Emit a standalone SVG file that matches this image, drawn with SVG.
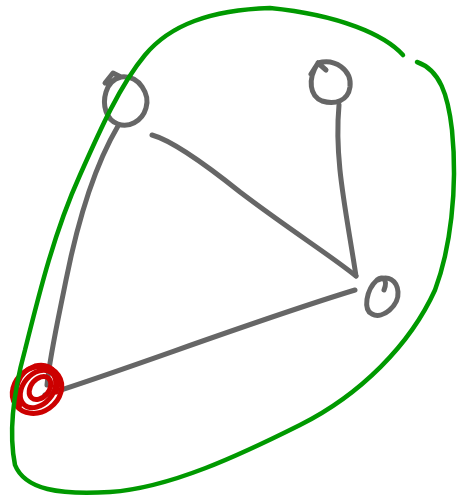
<svg xmlns="http://www.w3.org/2000/svg" width="464" height="502" viewBox="0 0 464 502">
<style>
.g{fill:none;stroke:#666;stroke-width:5;stroke-linecap:round;stroke-linejoin:round}
.r{fill:none;stroke:#c00;stroke-width:5;stroke-linecap:round}
.o{fill:none;stroke:#090;stroke-width:4.5;stroke-linecap:round;stroke-linejoin:round}
</style>
<rect width="464" height="502" fill="#fff"/>
<g id="connectors">
<path class="g" d="M118,126 C95,165 78,220 66,280 C58,320 50,355 47,385"/>
<path class="g" d="M152,135 C170,140 200,160 240,192 C290,230 330,255 356,276"/>
<path class="g" d="M339,105 C334,160 346,210 356,276"/>
<path class="g" d="M45,395 C120,372 250,322 355,290"/>
</g>
<g id="node-a">
<path class="g" d="M105,83 L113,73 L121,77 C140,75 150,95 146,108 C142,122 128,128 118,124 C106,120 102,105 106,92 C108,85 113,79 121,77"/>
</g>
<g id="node-b">
<path class="g" d="M311,74 L318,63 L326,70 M318,63 C335,58 352,70 350,87 C348,101 335,105 322,101 C310,96 307,80 318,63"/>
</g>
<g id="node-c">
<path class="g" d="M384,290 C388,280 383,275 377,280 C366,290 363,310 372,314 C383,320 399,305 398,292 C397,280 388,275 378,280"/>
</g>
<g id="node-red">
<ellipse class="r" cx="37" cy="390" rx="26" ry="22" transform="rotate(-35 37 390)"/>
<ellipse class="r" cx="38" cy="389" rx="21" ry="15" transform="rotate(-50 38 389)"/>
<ellipse class="r" cx="40" cy="388" rx="13" ry="9" transform="rotate(-50 40 388)"/>
<path class="r" d="M20,405 C12,390 18,372 35,366 C52,362 62,376 56,392"/>
</g>
<g id="outline">
<path class="o" d="M403,55 C385,35 340,15 270,8 C210,10 170,25 145,55 C120,85 100,130 80,175 C55,230 40,290 25,350 C14,390 8,430 15,465 C25,490 60,495 110,492 C170,488 240,455 300,425 C360,395 410,345 435,290 C450,250 458,190 452,130 C448,95 440,70 417,62"/>
</g>
</svg>
